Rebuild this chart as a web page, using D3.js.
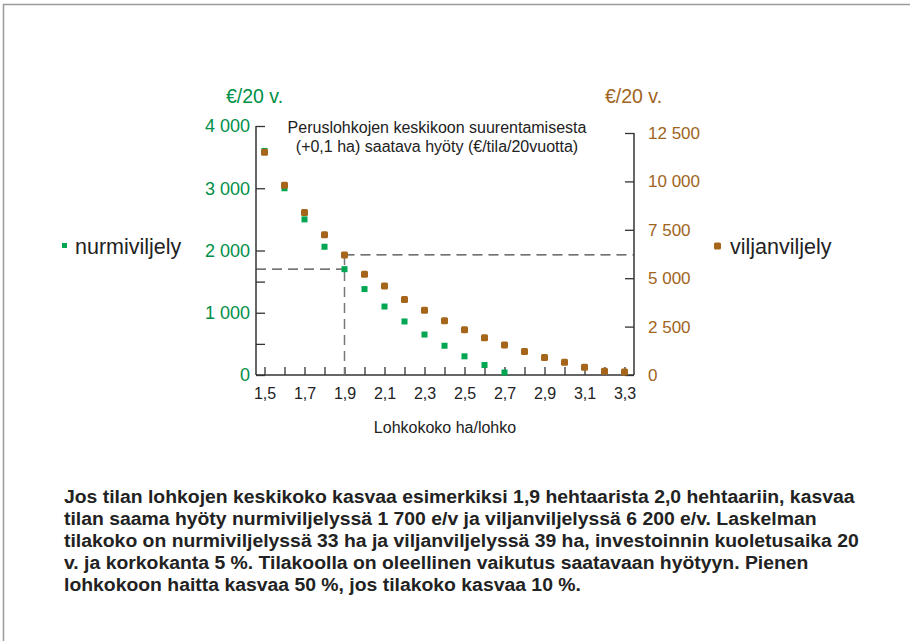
<!DOCTYPE html>
<html lang="fi">
<head>
<meta charset="UTF-8" />
<title>Lohkokoko ja hyöty</title>
<script src="https://d3js.org/d3.v7.min.js"></script>
<style>
  body { margin: 0; background: #fff; }
  text { font-family: "Liberation Sans", Arial, sans-serif; }
</style>
</head>
<body>
<script>
const WIDTH = 910;
const HEIGHT = 641;

// lohkokoko ha/lohko
const sizes = [1.5, 1.6, 1.7, 1.8, 1.9, 2.0, 2.1, 2.2, 2.3, 2.4, 2.5, 2.6, 2.7, 2.8, 2.9, 3.0, 3.1, 3.2, 3.3];
// €/20 v., left axis
const nurmi = [3600, 3000, 2500, 2060, 1700, 1380, 1100, 860, 650, 470, 300, 160, 40];
// €/20 v., right axis
const vilja = [11500, 9800, 8400, 7250, 6200, 5200, 4600, 3900, 3350, 2800, 2340, 1930, 1550, 1220, 910, 660, 400, 190, 150];

const xLabels = [1.5, 1.7, 1.9, 2.1, 2.3, 2.5, 2.7, 2.9, 3.1, 3.3];
const leftTicks = [0, 500, 1000, 1500, 2000, 3000, 4000];
const leftLabels = [0, 1000, 2000, 3000, 4000];
const rightTicks = [0, 2500, 5000, 7500, 10000, 12500];
const refIndex = 4; // 1,9 ha

const GREEN = "#00a651", GREEN_TXT = "#008f47";
const BROWN = "#a5661c", BROWN_TXT = "#a0641c";

const fi = d3.formatLocale({decimal: ",", thousands: " ", grouping: [3], currency: ["", "€"]});
const fmtInt = fi.format(",d");
const fmtDec = fi.format(".1f");

const svg = d3.select("body").append("svg")
    .attr("width", WIDTH)
    .attr("height", HEIGHT);

// page frame
svg.append("path")
    .attr("d", "M3.5,641 V4.5 H910")
    .attr("fill", "none")
    .attr("stroke", "#9a9a9a")
    .attr("stroke-width", 1.5);

const xScale = d3.scaleLinear().domain([1.5, 3.3]).range([264.5, 624.5]);
const yLeft = d3.scaleLinear().domain([0, 4000]).range([375, 126]);
const yRight = d3.scaleLinear().domain([0, 12500]).range([375, 133]);
const X0 = 256, X1 = 634;

// x axis
svg.append("g")
    .attr("transform", `translate(0, ${yLeft(0)})`)
    .call(d3.axisBottom(xScale)
        .tickValues(sizes)
        .tickSize(-8)
        .tickPadding(13)
        .tickFormat(d => xLabels.some(v => Math.abs(v - d) < 1e-9) ? fmtDec(d) : ""))
    .call(g => g.select(".domain").remove())
    .call(g => g.selectAll(".tick line").attr("stroke", "#333").attr("stroke-width", 1.3))
    .call(g => g.selectAll(".tick text").attr("fill", "#222").attr("font-size", 16)
        .attr("font-family", "Liberation Sans, Arial, sans-serif"));
svg.append("line")
    .attr("x1", X0).attr("x2", X1)
    .attr("y1", yLeft(0)).attr("y2", yLeft(0))
    .attr("stroke", "#333").attr("stroke-width", 1.5);

// left axis
svg.append("g")
    .attr("transform", `translate(${X0}, 0)`)
    .call(d3.axisLeft(yLeft)
        .tickValues(leftTicks)
        .tickSize(-9)
        .tickPadding(6)
        .tickFormat(d => leftLabels.includes(d) ? fmtInt(d) : ""))
    .call(g => g.select(".domain").remove())
    .call(g => g.selectAll(".tick line").attr("stroke", "#333").attr("stroke-width", 1.3))
    .call(g => g.selectAll(".tick text").attr("fill", GREEN_TXT).attr("font-size", 18)
        .attr("font-family", "Liberation Sans, Arial, sans-serif"));
svg.append("line")
    .attr("x1", X0).attr("x2", X0)
    .attr("y1", yLeft(4000)).attr("y2", yLeft(0))
    .attr("stroke", "#333").attr("stroke-width", 1.5);

// right axis
svg.append("g")
    .attr("transform", `translate(${X1}, 0)`)
    .call(d3.axisRight(yRight)
        .tickValues(rightTicks)
        .tickSize(-9)
        .tickPadding(14)
        .tickFormat(fmtInt))
    .call(g => g.select(".domain").remove())
    .call(g => g.selectAll(".tick line").attr("stroke", "#333").attr("stroke-width", 1.3))
    .call(g => g.selectAll(".tick text").attr("fill", BROWN_TXT).attr("font-size", 17)
        .attr("font-family", "Liberation Sans, Arial, sans-serif"));
svg.append("line")
    .attr("x1", X1).attr("x2", X1)
    .attr("y1", yRight(12500)).attr("y2", yRight(0))
    .attr("stroke", "#333").attr("stroke-width", 1.5);

// reference dashed lines at 1,9 ha
const rx = xScale(sizes[refIndex]);
svg.append("line")
    .attr("x1", X0).attr("x2", rx)
    .attr("y1", yLeft(nurmi[refIndex])).attr("y2", yLeft(nurmi[refIndex]))
    .attr("stroke", "#444").attr("stroke-width", 1.2).attr("stroke-dasharray", "10,6");
svg.append("line")
    .attr("x1", rx).attr("x2", X1)
    .attr("y1", yRight(vilja[refIndex])).attr("y2", yRight(vilja[refIndex]))
    .attr("stroke", "#444").attr("stroke-width", 1.2).attr("stroke-dasharray", "10,6");
svg.append("line")
    .attr("x1", rx).attr("x2", rx)
    .attr("y1", yRight(vilja[refIndex])).attr("y2", yLeft(0))
    .attr("stroke", "#777").attr("stroke-width", 1.5).attr("stroke-dasharray", "10,6");

// points
svg.append("g").selectAll("rect")
    .data(nurmi)
    .join("rect")
        .attr("x", (d, i) => xScale(sizes[i]) - 3)
        .attr("y", d => yLeft(d) - 3)
        .attr("width", 6).attr("height", 6)
        .attr("fill", GREEN);
svg.append("g").selectAll("rect")
    .data(vilja)
    .join("rect")
        .attr("x", (d, i) => xScale(sizes[i]) - 3.5)
        .attr("y", d => yRight(d) - 3.5)
        .attr("width", 7).attr("height", 7)
        .attr("rx", 1.5)
        .attr("fill", BROWN);

// unit labels
svg.append("text").attr("x", 226).attr("y", 103).attr("font-size", 19.5)
    .attr("fill", GREEN_TXT).text("€/20 v.");
svg.append("text").attr("x", 605).attr("y", 103).attr("font-size", 19.5)
    .attr("fill", BROWN_TXT).text("€/20 v.");

// title inside plot
svg.append("text").attr("x", 437).attr("y", 133).attr("font-size", 16)
    .attr("text-anchor", "middle").attr("fill", "#222")
    .text("Peruslohkojen keskikoon suurentamisesta");
svg.append("text").attr("x", 437).attr("y", 152).attr("font-size", 16)
    .attr("text-anchor", "middle").attr("fill", "#222")
    .text("(+0,1 ha) saatava hyöty (€/tila/20vuotta)");

// x axis title
svg.append("text").attr("x", 445).attr("y", 433).attr("font-size", 16)
    .attr("text-anchor", "middle").attr("fill", "#222")
    .text("Lohkokoko ha/lohko");

// legends
svg.append("rect").attr("x", 62).attr("y", 243).attr("width", 5).attr("height", 5).attr("fill", GREEN);
svg.append("text").attr("x", 75).attr("y", 254).attr("font-size", 21.5).attr("fill", "#222").text("nurmiviljely");
svg.append("rect").attr("x", 714).attr("y", 242.5).attr("width", 7).attr("height", 7).attr("rx", 1.5).attr("fill", BROWN);
svg.append("text").attr("x", 730).attr("y", 254).attr("font-size", 21.5).attr("fill", "#222").text("viljanviljely");

// caption (condensed bold: squeeze Liberation Sans horizontally)
const caption = [
  "Jos tilan lohkojen keskikoko kasvaa esimerkiksi 1,9 hehtaarista 2,0 hehtaariin, kasvaa",
  "tilan saama hyöty nurmiviljelyssä 1 700 e/v ja viljanviljelyssä 6 200 e/v. Laskelman",
  "tilakoko on nurmiviljelyssä 33 ha ja viljanviljelyssä 39 ha, investoinnin kuoletusaika 20",
  "v. ja korkokanta 5 %. Tilakoolla on oleellinen vaikutus saatavaan hyötyyn. Pienen",
  "lohkokoon haitta kasvaa 50 %, jos tilakoko kasvaa 10 %."
];
const capG = svg.append("g");
const capText = capG.selectAll("text")
    .data(caption)
    .join("text")
        .attr("x", 0)
        .attr("y", (d, i) => 503 + i * 22)
        .attr("font-size", 18.5)
        .attr("font-weight", "bold")
        .attr("fill", "#222")
        .text(d => d);
const firstW = capText.node().getComputedTextLength();
const sx = 791 / firstW;
capG.attr("transform", `translate(64,0) scale(${sx},1)`);
</script>
</body>
</html>
